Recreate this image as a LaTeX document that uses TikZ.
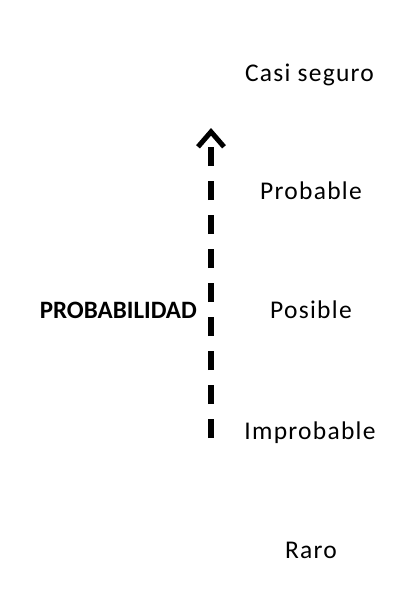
\documentclass[tikz,border=0pt]{standalone}
\usepackage{fontspec}
\setmainfont{Carlito}
\newfontfamily\levelfont{Carlito}[LetterSpace=5]
\usetikzlibrary{arrows.meta}
\begin{document}
\begin{tikzpicture}[x=1pt,y=-1pt,
  level/.style={font=\levelfont\fontsize{25.5}{30}\selectfont, anchor=base, inner sep=0pt},
  axislabel/.style={font=\bfseries\fontsize{25}{30}\selectfont, anchor=base east, inner sep=0pt},
  axisline/.style={line width=6pt, dash pattern=on 19pt off 15pt,
    -{Straight Barb[length=15pt,width=26pt,line width=5pt]}}]
  \useasboundingbox (0,0) rectangle (395,605);
  % probability levels
  \node[level] (casi) at (309.5,81) {Casi seguro};
  \node[level] (prob) at (311,199) {Probable};
  \node[level] (posi) at (311,318) {Posible};
  \node[level] (impr) at (310,439) {Improbable};
  \node[level] (raro) at (311,558) {Raro};
  % axis
  \node[axislabel] (axis) at (197,318) {PROBABILIDAD};
  \coordinate (low) at (211,438);
  \coordinate (high) at (211,128);
  \draw[axisline] (low) -- (high);
\end{tikzpicture}
\end{document}
